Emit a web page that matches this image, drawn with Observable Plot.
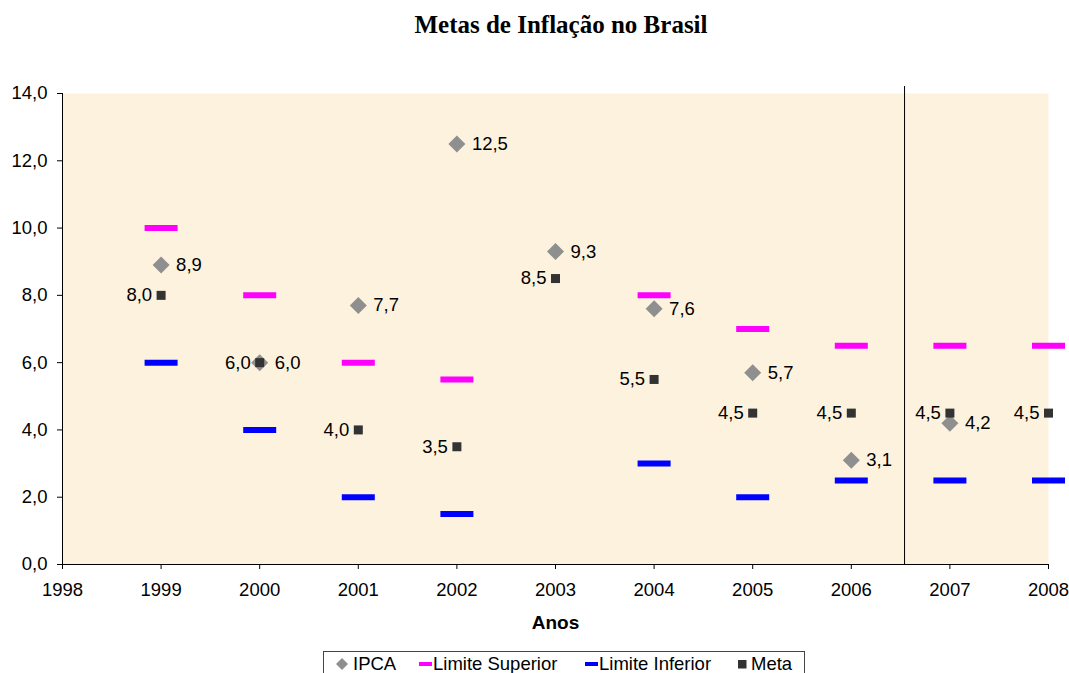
<!DOCTYPE html>
<html>
<head>
<meta charset="utf-8">
<script src="https://cdn.jsdelivr.net/npm/d3@7"></script>
<script src="https://cdn.jsdelivr.net/npm/@observablehq/plot@0.6"></script>
<style>
  body { margin: 0; background: #fff; width: 1069px; height: 673px; overflow: hidden; position: relative; font-family: Arial, "Liberation Sans", sans-serif; }
  #title { position: absolute; left: 0; top: 0; width: 1122px; height: 50px; text-align: center; line-height: 50px;
           font-family: "Times New Roman", "Liberation Serif", serif; font-weight: bold; font-size: 25px; color: #000; }
  #chart { position: absolute; left: 0; top: 50px; }
  #legend { position: absolute; left: 323px; top: 651px; width: 482px; height: 28px; border: 1px solid #444; box-sizing: border-box;
            background: #fff; font-size: 18.5px; color: #000; }
  .lg { position: absolute; top: 0; height: 24px; line-height: 24px; white-space: nowrap; }
  .lg svg { display: block; margin-top: 5px; }
</style>
</head>
<body>
<div id="title">Metas de Inflação no Brasil</div>
<div id="chart"></div>
<div id="legend"></div>
<script>
// ---- data ----
const anos = [1999, 2000, 2001, 2002, 2003, 2004, 2005, 2006, 2007, 2008];
const ipca = [8.9, 6.0, 7.7, 12.5, 9.3, 7.6, 5.7, 3.1, 4.2, null];
const limiteSuperior = [10.0, 8.0, 6.0, 5.5, null, 8.0, 7.0, 6.5, 6.5, 6.5];
const limiteInferior = [6.0, 4.0, 2.0, 1.5, null, 3.0, 2.0, 2.5, 2.5, 2.5];
const meta = [8.0, 6.0, 4.0, 3.5, 8.5, 5.5, 4.5, 4.5, 4.5, 4.5];
const xTicks = [1998, 1999, 2000, 2001, 2002, 2003, 2004, 2005, 2006, 2007, 2008];
const yTicks = [0, 2, 4, 6, 8, 10, 12, 14];
const divisor = [2006.54];
const seriesNames = ["IPCA", "Limite Superior", "Limite Inferior", "Meta"];
const seriesColors = ["#8F8F8F", "#FF00FF", "#0000FF", "#333333"];

const rows = (vals) => anos.map((a, i) => ({ano: a, v: vals[i]})).filter(d => d.v != null);
const fmt = v => v.toFixed(1).replace(".", ",");

// marker shapes
const diamond = { draw(ctx) { const h = 8.5; ctx.moveTo(0, -h); ctx.lineTo(h, 0); ctx.lineTo(0, h); ctx.lineTo(-h, 0); ctx.closePath(); } };
const square = { draw(ctx) { const h = 4.5; ctx.rect(-h, -h, 2 * h, 2 * h); } };
const dash = { draw(ctx) { ctx.rect(-16.5, -3, 33, 6); } };

const FS = 18.5;
const chart = Plot.plot({
  width: 1069,
  height: 600,
  marginLeft: 62,
  marginRight: 21,
  marginTop: 43,
  marginBottom: 86,
  style: { fontFamily: "Arial, 'Liberation Sans', sans-serif", fontSize: FS + "px", color: "#000", background: "transparent", overflow: "visible" },
  x: { domain: [1998, 2008], label: null },
  y: { domain: [0, 14], label: null },
  marks: [
    Plot.frame({ fill: "#FDF2DD", stroke: null }),
    Plot.ruleX(divisor, { stroke: "#000", strokeWidth: 1, insetTop: -7 }),
    Plot.dot(rows(ipca), { x: "ano", y: "v", symbol: diamond, fill: seriesColors[0], stroke: null }),
    Plot.text(rows(ipca), { x: "ano", y: "v", text: d => fmt(d.v), textAnchor: "start", dx: 15, fill: "#000", fontSize: FS }),
    Plot.dot(rows(limiteSuperior), { x: "ano", y: "v", symbol: dash, fill: seriesColors[1], stroke: null }),
    Plot.dot(rows(limiteInferior), { x: "ano", y: "v", symbol: dash, fill: seriesColors[2], stroke: null }),
    Plot.dot(rows(meta), { x: "ano", y: "v", symbol: square, fill: seriesColors[3], stroke: null }),
    Plot.text(rows(meta), { x: "ano", y: "v", text: d => fmt(d.v), textAnchor: "end", dx: -9, fill: "#000", fontSize: FS }),
    Plot.axisX({ ticks: xTicks, tickFormat: d => String(d), tickSize: 5, tickPadding: 13, stroke: "#000", fill: "#000", fontSize: FS, label: null }),
    Plot.axisY({ ticks: yTicks, tickFormat: fmt, tickSize: 5, tickPadding: 10, stroke: "#000", fill: "#000", fontSize: FS, label: null }),
    Plot.ruleX([1998], { stroke: "#000" }),
    Plot.ruleY([0], { stroke: "#000" }),
    Plot.text(["Anos"], { frameAnchor: "bottom", dy: 64, text: d => d, fontWeight: "bold", fontSize: 19, fill: "#000" })
  ]
});
document.getElementById("chart").appendChild(chart);

// legend
const legend = document.getElementById("legend");
const icons = [
  `<svg width="14" height="14"><path d="M7 1 L13 7 L7 13 L1 7 Z" fill="${seriesColors[0]}"/></svg>`,
  `<svg width="13" height="14"><rect x="0" y="5" width="13" height="4" fill="${seriesColors[1]}"/></svg>`,
  `<svg width="13" height="14"><rect x="0" y="5" width="13" height="4" fill="${seriesColors[2]}"/></svg>`,
  `<svg width="10" height="14"><rect x="1" y="3" width="8.5" height="8.5" fill="${seriesColors[3]}"/></svg>`
];
const iconLefts = [11, 95, 261, 413];
const textLefts = [29, 109, 275, 427];
seriesNames.forEach((name, i) => {
  const ic = document.createElement("div");
  ic.className = "lg";
  ic.style.left = iconLefts[i] + "px";
  ic.innerHTML = icons[i];
  legend.appendChild(ic);
  const tx = document.createElement("div");
  tx.className = "lg";
  tx.style.left = textLefts[i] + "px";
  tx.textContent = name;
  legend.appendChild(tx);
});
</script>
</body>
</html>
